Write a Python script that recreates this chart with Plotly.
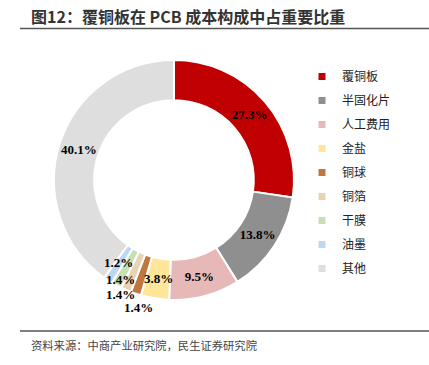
import math
import plotly.graph_objects as go

categories = ["覆铜板", "半固化片", "人工费用", "金盐", "铜球", "铜箔", "干膜", "油墨", "其他"]
values = [27.3, 13.8, 9.5, 3.8, 1.4, 1.4, 1.4, 1.2, 40.1]
colors = ["#C00000", "#8F8F8F", "#E6B9B8", "#FFE699", "#C0773F", "#E8D4B4", "#C5E0B4", "#BDD7EE", "#DEDEDE"]
positions = ["inside", "inside", "inside", "none", "none", "none", "none", "none", "inside"]
# manual label nudges (px) for the labels drawn as annotations, as in the original chart
label_nudge = {3: (0, 0), 4: (-4, 33), 5: (-13, 23), 6: (-6, 12), 7: (-1, -1)}

W, H = 429, 365
CX, CY, R, HOLE = 174, 180, 120, 0.665
fig = go.Figure()

fig.add_trace(go.Pie(
    labels=categories, values=values, sort=False, direction="clockwise", rotation=0,
    hole=HOLE,
    marker=dict(colors=colors, line=dict(color="white", width=2)),
    texttemplate="%{value:.1f}%", textposition=positions,
    insidetextorientation="horizontal",
    textfont=dict(family="Liberation Serif", size=13, color="black", weight="bold"),
    domain=dict(x=[(CX - R) / W, (CX + R) / W], y=[(H - CY - R) / H, (H - CY + R) / H]),
    showlegend=False, hoverinfo="label+percent",
))

# data labels for small slices, placed at each slice's mid-angle
total = sum(values)
cum = 0.0
rmid = R * (1 + HOLE) / 2
for i, v in enumerate(values):
    mid = (cum + v / 2) / total * 2 * math.pi
    cum += v
    if i in label_nudge:
        dx, dy = label_nudge[i]
        px = CX + rmid * math.sin(mid) + dx
        py = CY - rmid * math.cos(mid) + dy
        fig.add_annotation(text=f"<b>{v:.1f}%</b>", xref="paper", yref="paper",
                           x=px / W, y=1 - py / H, xanchor="center", yanchor="middle",
                           showarrow=False,
                           font=dict(family="Liberation Serif", size=13, color="black"))

for c, col in zip(categories, colors):
    fig.add_trace(go.Scatter(
        x=[None], y=[None], mode="markers", name=c, legendgroup=c,
        marker=dict(symbol="square", size=7, color=col),
    ))

fig.add_shape(type="line", xref="paper", yref="paper", x0=20 / W, x1=1, y0=1 - 28.5 / H, y1=1 - 28.5 / H,
              line=dict(color="#555555", width=1.5))
fig.add_shape(type="line", xref="paper", yref="paper", x0=20 / W, x1=1, y0=1 - 331 / H, y1=1 - 331 / H,
              line=dict(color="#555555", width=1.5))

fig.add_annotation(text="<b>图12：覆铜板在 PCB 成本构成中占重要比重</b>", xref="paper", yref="paper",
                   x=29 / W, y=1 - 16 / H, xanchor="left", yanchor="middle", showarrow=False,
                   font=dict(family="Noto Sans CJK SC", size=16, color="#333333"))
fig.add_annotation(text="资料来源：中商产业研究院，民生证券研究院", xref="paper", yref="paper",
                   x=29 / W, y=1 - 345 / H, xanchor="left", yanchor="middle", showarrow=False,
                   font=dict(family="Noto Sans CJK SC", size=11.3, color="#444444"))

fig.update_layout(
    width=W, height=H, margin=dict(l=0, r=0, t=0, b=0),
    paper_bgcolor="white", plot_bgcolor="white",
    xaxis=dict(visible=False), yaxis=dict(visible=False),
    showlegend=True,
    legend=dict(x=302 / W, y=1 - 62 / H, xanchor="left", yanchor="top",
                font=dict(family="Noto Sans CJK SC", size=12, color="#222222"),
                tracegroupgap=5, itemwidth=30, bgcolor="rgba(0,0,0,0)"),
)

fig.write_html("out.html", config={"displayModeBar": False},
               post_script="document.body.style.margin='0';")
